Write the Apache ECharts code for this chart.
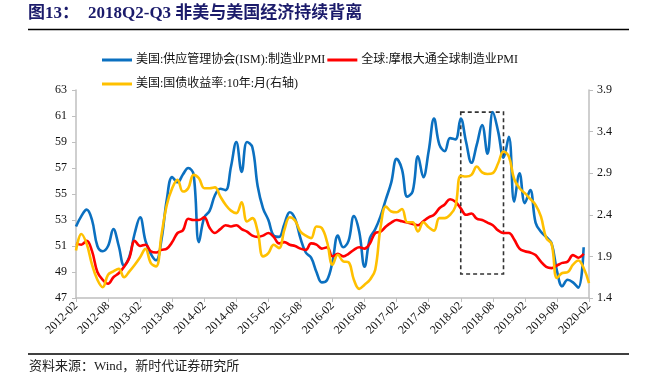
<!DOCTYPE html>
<html>
<head>
<meta charset="utf-8">
<script src="https://cdn.jsdelivr.net/npm/echarts@6/dist/echarts.min.js"></script>
<style>
html,body{margin:0;padding:0;background:#fff;}
#chart{width:649px;height:389px;}
</style>
</head>
<body>
<div id="chart"></div>
<script>
// ---- data ----
const startYear = 2012, startMonth = 2, monthCount = 97;
const months = [];
for (let i = 0; i < monthCount; i++) {
  const t = startYear * 12 + (startMonth - 1) + i;
  months.push(Math.floor(t / 12) + '-' + String(t % 12 + 1).padStart(2, '0'));
}
const seriesNames = ['美国:供应管理协会(ISM):制造业PMI', '全球:摩根大通全球制造业PMI', '美国:国债收益率:10年:月(右轴)'];
// ISM manufacturing PMI, 2012-02 .. 2020-01
const ismPMI = [
  52.5, 53.3, 53.8, 53.0, 51.0, 50.6, 51.0, 52.3, 51.0, 49.5, 50.2, 52.0,
  53.2, 51.4, 50.4, 49.9, 51.5, 54.6, 56.3, 55.9, 56.5, 57.0, 56.5, 51.3,
  53.2, 53.7, 54.9, 55.4, 55.3, 57.1, 59.0, 56.7, 59.0, 58.6, 55.6, 53.9,
  53.0, 51.8, 51.7, 52.7, 53.6, 53.1, 51.6, 50.5, 50.1, 49.0, 48.2, 48.4,
  49.8, 51.8, 50.9, 51.4, 53.3, 52.1, 49.4, 51.6, 52.3, 53.3, 54.6, 55.9,
  57.7, 56.9, 54.8, 55.2, 57.9, 56.3, 58.3, 60.8, 58.8, 58.3, 59.3, 59.2,
  60.8, 59.0, 57.4, 58.8, 60.3, 58.1, 61.3, 59.8, 57.8, 59.4, 54.4, 56.6,
  54.3, 55.3, 52.8, 52.1, 51.7, 51.2, 49.1, 47.9, 48.4, 48.2, 47.8, 50.9
];
// JPMorgan global manufacturing PMI, 2012-02 .. 2020-01
const globalPMI = [
  51.2, 51.1, 51.4, 50.6, 49.0, 48.4, 48.1, 48.6, 48.9, 49.4, 50.1, 51.4,
  51.0, 51.1, 50.6, 50.5, 50.7, 50.8, 51.3, 52.0, 52.2, 53.1, 53.0, 53.0,
  53.2, 52.4, 52.0, 52.3, 52.6, 52.5, 52.6, 52.3, 52.1, 51.8, 51.7, 51.8,
  52.0, 51.7, 51.2, 51.3, 51.1, 51.0, 50.8, 50.7, 51.2, 51.1, 50.8, 50.9,
  50.2, 50.4, 50.2, 50.4, 50.7, 50.9, 50.8, 51.2, 52.0, 52.1, 52.5, 52.8,
  53.0, 52.9, 52.8, 52.7, 52.6, 52.9, 53.2, 53.4, 53.9, 54.2, 54.6, 54.4,
  53.9, 53.4, 53.5, 53.1, 53.0, 52.8, 52.6, 52.2, 52.0, 52.0, 51.5, 50.8,
  50.6, 50.5, 50.3, 49.8, 49.4, 49.3, 49.5, 49.7, 49.8, 50.3, 50.1, 50.4
];
// US 10Y treasury yield (right axis), 2012-02 .. 2020-02
const yield10Y = [
  1.97, 2.17, 2.05, 1.80, 1.62, 1.53, 1.68, 1.72, 1.75, 1.65, 1.72, 1.80,
  1.89, 1.99, 1.82, 1.78, 2.16, 2.52, 2.72, 2.82, 2.68, 2.72, 2.88, 2.84,
  2.72, 2.72, 2.73, 2.62, 2.52, 2.45, 2.42, 2.55, 2.32, 2.36, 2.20, 1.90,
  1.94, 2.04, 2.00, 2.22, 2.37, 2.33, 2.20, 2.15, 2.12, 2.26, 2.24, 2.07,
  1.80, 1.92, 1.84, 1.83, 1.62, 1.51, 1.56, 1.62, 1.74, 2.25, 2.50, 2.44,
  2.43, 2.47, 2.31, 2.31, 2.20, 2.31, 2.25, 2.21, 2.36, 2.36, 2.40, 2.50,
  2.87, 2.86, 2.88, 2.98, 2.91, 2.89, 2.90, 3.02, 3.16, 3.10, 2.83, 2.72,
  2.66, 2.59, 2.52, 2.38, 2.12, 2.05, 1.64, 1.70, 1.71, 1.80, 1.85, 1.76,
  1.58
];
// dashed highlight box (x: category index, y: left-axis value)
const boxX = [72, 79.6];
const boxY = [61.3, 48.85];
const leftTicks = {min: 47, max: 63, interval: 2};
const rightTicks = {min: 1.4, max: 3.9, interval: 0.5};

// ---- chart ----
const serif = "'Liberation Serif','Noto Sans CJK SC',serif";
const chart = echarts.init(document.getElementById('chart'), null, {renderer: 'canvas'});
const axisGray = '#BFBFBF';
chart.setOption({
  animation: false,
  backgroundColor: '#fff',
  grid: {left: 76, right: 60, top: 90, bottom: 91, containLabel: false},
  graphic: [
    {type: 'text', left: 28, top: 5, style: {text: '图13：', font: "bold 17px " + serif, fill: '#1B1B6B'}},
    {type: 'text', left: 88, top: 5, style: {text: '2018Q2-Q3 非美与美国经济持续背离', font: "bold 17px " + serif, fill: '#1B1B6B'}},
    {type: 'line', shape: {x1: 28, y1: 29.5, x2: 629, y2: 29.5}, style: {stroke: '#000', lineWidth: 1.5}},
    {type: 'line', shape: {x1: 28, y1: 354, x2: 629, y2: 354}, style: {stroke: '#000', lineWidth: 1.5}},
    {type: 'text', left: 29, top: 360, style: {text: '资料来源：Wind，新时代证券研究所', font: "13px " + serif, fill: '#222'}}
  ],
  legend: [
    {data: [seriesNames[0], seriesNames[1]], left: 97, top: 49, icon: 'rect', itemWidth: 30, itemHeight: 3, itemGap: 2,
     textStyle: {fontSize: 12, color: '#111', fontFamily: serif, padding: [0, 0, 0, -1]}},
    {data: [seriesNames[2]], left: 97, top: 73, icon: 'rect', itemWidth: 30, itemHeight: 3, itemGap: 2,
     textStyle: {fontSize: 12, color: '#111', fontFamily: serif, padding: [0, 0, 0, -1]}}
  ],
  xAxis: {
    type: 'category', data: months, boundaryGap: false,
    axisLine: {lineStyle: {color: axisGray, width: 1.5}},
    axisTick: {interval: 5, length: 4, lineStyle: {color: axisGray}},
    axisLabel: {interval: 5, rotate: 45, fontSize: 12, color: '#111', fontFamily: serif, margin: 6},
    splitLine: {show: false}
  },
  yAxis: [
    {type: 'value', min: leftTicks.min, max: leftTicks.max, interval: leftTicks.interval,
     axisLine: {show: true, lineStyle: {color: axisGray, width: 1.5}},
     axisTick: {show: true, length: 4, lineStyle: {color: axisGray}},
     axisLabel: {fontSize: 12, color: '#111', fontFamily: serif, margin: 9},
     splitLine: {show: false}},
    {type: 'value', min: rightTicks.min, max: rightTicks.max, interval: rightTicks.interval, position: 'right',
     axisLine: {show: true, lineStyle: {color: axisGray, width: 1.5}},
     axisTick: {show: true, length: 4, lineStyle: {color: axisGray}},
     axisLabel: {fontSize: 12, color: '#111', fontFamily: serif, margin: 8, formatter: v => v.toFixed(1)},
     splitLine: {show: false}}
  ],
  series: [
    {name: seriesNames[0], type: 'line', data: ismPMI, yAxisIndex: 0, smooth: 0.4, symbol: 'none',
     lineStyle: {color: '#0B70C0', width: 2.6}, itemStyle: {color: '#0B70C0'},
     markArea: {silent: true, itemStyle: {color: 'rgba(0,0,0,0)', borderColor: '#333', borderWidth: 1.6, borderType: [4, 3]},
       data: [[{xAxis: boxX[0], yAxis: boxY[0]}, {xAxis: boxX[1], yAxis: boxY[1]}]]}},
    {name: seriesNames[1], type: 'line', data: globalPMI, yAxisIndex: 0, smooth: 0.4, symbol: 'none',
     lineStyle: {color: '#FF0000', width: 2.6}, itemStyle: {color: '#FF0000'}},
    {name: seriesNames[2], type: 'line', data: yield10Y, yAxisIndex: 1, smooth: 0.4, symbol: 'none',
     lineStyle: {color: '#FFC000', width: 2.6}, itemStyle: {color: '#FFC000'}}
  ]
});
</script>
</body>
</html>
